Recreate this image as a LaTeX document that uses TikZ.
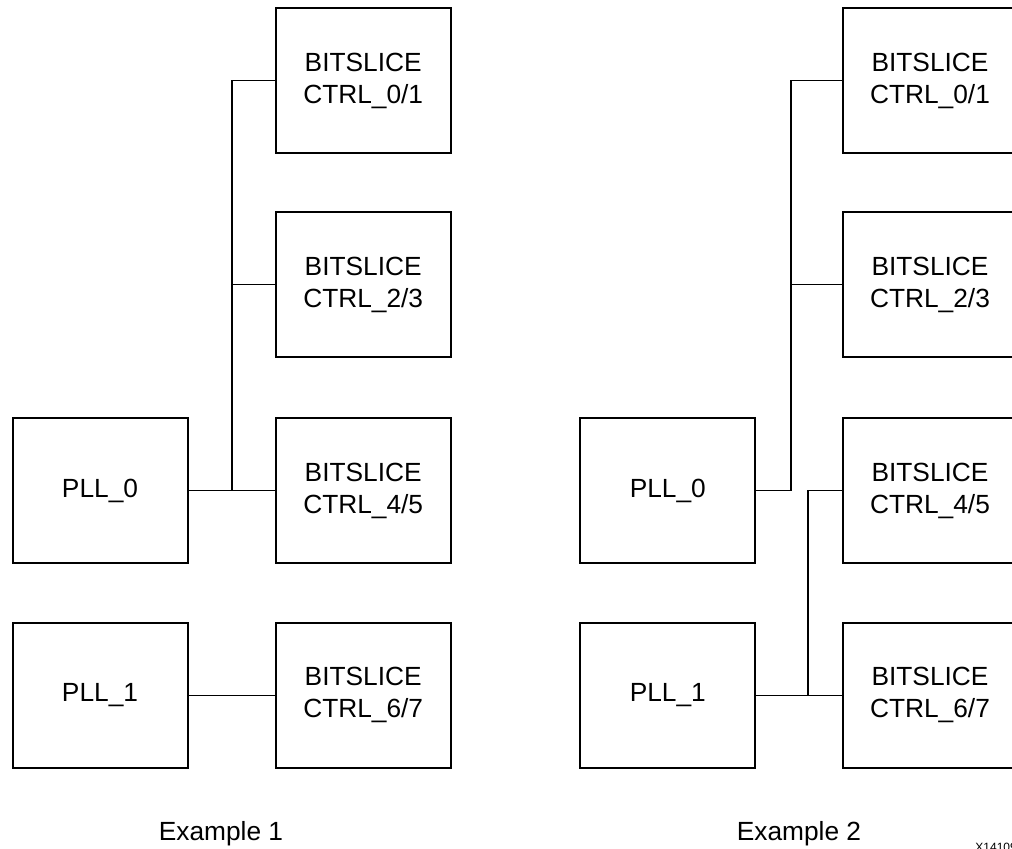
\documentclass[tikz,border=0pt]{standalone}
\usepackage{fontspec}
\setmainfont{Liberation Sans}
\begin{document}
\begin{tikzpicture}[x=0.5pt,y=-0.5pt,
  blk/.style={draw=black,line width=1pt,minimum width=87.5pt,minimum height=72.5pt,
    inner sep=0pt,align=center,font=\fontsize{13.15}{16}\selectfont},
  wire/.style={draw=black,line width=0.55pt},
  figlabel/.style={anchor=base,inner sep=0pt,font=\fontsize{13.15}{16}\selectfont}]
\useasboundingbox (0,0) rectangle (1012,848);
\clip (0,0) rectangle (1012,848);
% Example 1
\node[blk] (lpll0) at (100,490.5) {PLL\_0};
\node[blk] (lpll1) at (100,695.3) {PLL\_1};
\node[blk] (lbs01) at (363.2,80.5) {BITSLICE\\CTRL\_0/1};
\node[blk] (lbs23) at (363.2,284.5) {BITSLICE\\CTRL\_2/3};
\node[blk] (lbs45) at (363.2,490.5) {BITSLICE\\CTRL\_4/5};
\node[blk] (lbs67) at (363.2,695.3) {BITSLICE\\CTRL\_6/7};
\coordinate (lj) at (232,490.5);
\draw[wire] (lpll0.east) -- (lbs45.west);
\draw[wire] (lbs01.west) -| (lj);
\draw[wire] (lbs23.west) -- (lbs23.west -| lj);
\draw[wire] (lpll1.east) -- (lbs67.west);
\node[figlabel] (ex1) at (221,840) {Example 1};
% Example 2
\node[blk] (rpll0) at (667.8,490.5) {PLL\_0};
\node[blk] (rpll1) at (667.8,695.3) {PLL\_1};
\node[blk] (rbs01) at (930,80.5) {BITSLICE\\CTRL\_0/1};
\node[blk] (rbs23) at (930,284.5) {BITSLICE\\CTRL\_2/3};
\node[blk] (rbs45) at (930,490.5) {BITSLICE\\CTRL\_4/5};
\node[blk] (rbs67) at (930,695.3) {BITSLICE\\CTRL\_6/7};
\coordinate (rj1) at (791,490.5);
\coordinate (rj2) at (808,695.3);
\draw[wire] (rpll0.east) -- (rj1) |- (rbs01.west);
\draw[wire] (rbs23.west) -- (rbs23.west -| rj1);
\draw[wire] (rpll1.east) -- (rbs67.west);
\draw[wire] (rj2) |- (rbs45.west);
\node[figlabel] (ex2) at (799,840) {Example 2};
\node[anchor=north west,inner sep=0pt,font=\fontsize{6}{7}\selectfont] (fig) at (975,843) {X14109};
\end{tikzpicture}
\end{document}
